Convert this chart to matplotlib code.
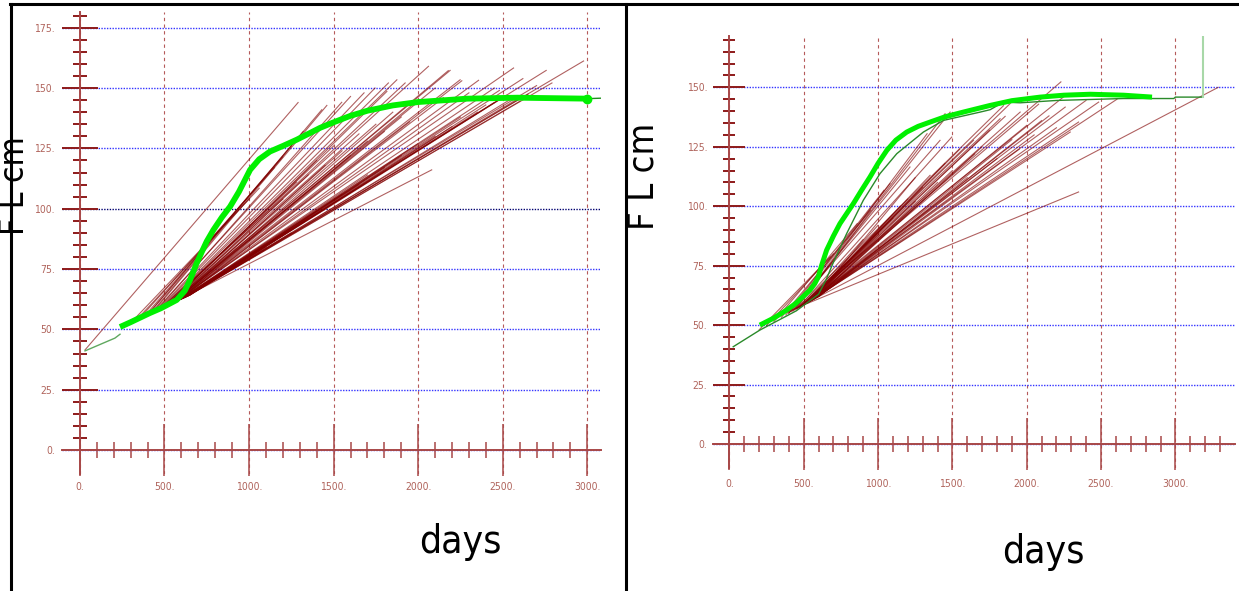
import matplotlib.pyplot as plt
from matplotlib.lines import Line2D
from matplotlib.ticker import FixedLocator, FuncFormatter

# ---- data ----
# growth increments: (days at release, FL at release, days at recapture, FL at recapture)
left_segs = [
    (30, 41.5, 1290, 144.0),
    (300, 52.7, 1000, 104.0), (330, 53.6, 1060, 108.5), (350, 54.3, 1150, 117.0),
    (380, 55.3, 1200, 121.5), (400, 56.0, 1250, 126.0), (420, 56.6, 1320, 132.0),
    (400, 56.0, 1430, 141.0), (430, 57.0, 1460, 142.8), (450, 57.6, 1548, 144.1),
    (440, 57.3, 1600, 146.5), (460, 58.0, 1680, 148.0), (470, 58.3, 1745, 150.0),
    (480, 58.6, 1824, 152.1), (500, 59.3, 1923, 152.1), (470, 58.3, 2061, 159.0),
    (490, 59.0, 1874, 153.4),
    (520, 60.0, 1200, 104.0), (500, 59.3, 1280, 111.0), (540, 60.6, 1350, 114.0),
    (520, 60.0, 1400, 120.0), (560, 61.2, 1450, 118.0), (500, 59.3, 1500, 126.0),
    (540, 60.6, 1550, 124.0), (580, 62.0, 1600, 122.0), (510, 59.6, 1650, 131.0),
    (550, 61.0, 1700, 128.0), (530, 60.3, 1750, 135.0), (570, 61.6, 1800, 132.0),
    (520, 60.0, 1815, 148.6), (560, 61.2, 1850, 140.0), (540, 60.6, 1900, 138.0),
    (590, 62.3, 1950, 136.0), (550, 61.0, 2000, 145.0), (520, 60.0, 2189, 157.3),
    (540, 60.6, 2178, 157.2), (560, 61.2, 2258, 153.0), (570, 61.6, 2357, 153.2),
    (530, 60.3, 2100, 150.0), (580, 62.0, 2150, 146.0), (550, 61.0, 2248, 153.4),
    (530, 60.3, 2564, 158.3), (580, 62.0, 2619, 153.9), (560, 61.2, 2757, 157.3),
    (600, 62.6, 2978, 161.2), (600, 62.6, 2791, 152.1), (590, 62.3, 2450, 150.0),
    (570, 61.6, 2300, 148.0),
    (600, 62.6, 1100, 84.0), (620, 63.2, 1250, 90.0), (640, 63.9, 1350, 96.0),
    (610, 62.9, 1450, 100.0), (630, 63.6, 1550, 106.0), (650, 64.2, 1650, 110.0),
    (600, 62.6, 1700, 114.0), (620, 63.2, 1800, 117.0), (572, 61.8, 2080, 116.1),
    (640, 63.9, 1900, 122.0), (610, 62.9, 2000, 127.0), (630, 63.6, 2100, 130.0),
    (650, 64.2, 2200, 134.0), (600, 62.6, 2250, 138.0), (620, 63.2, 2350, 140.0),
    (640, 63.9, 2400, 143.0), (610, 62.9, 2450, 144.0), (630, 63.6, 2500, 146.0),
    (620, 63.2, 2603, 144.6), (650, 64.2, 2550, 145.5), (600, 62.6, 2650, 147.5),
    (580, 62.0, 2520, 147.0), (640, 63.9, 2600, 146.0), (590, 62.3, 2700, 151.0),
    (560, 61.2, 2480, 149.0),
]

left_fit_x = [237, 300, 414, 480, 572, 620, 651, 690, 720, 750, 789, 840, 888, 940,
              1006, 1060, 1124, 1200, 1282, 1350, 1420, 1500, 1600, 1700, 1850, 2000,
              2290, 2586, 3000]
left_fit_y = [51.0, 53.0, 56.8, 58.8, 62.2, 66.0, 70.5, 77.4, 82.0, 86.5, 91.2, 96.5,
              100.9, 107.0, 116.1, 120.5, 123.7, 126.0, 128.6, 131.0, 133.5, 135.8,
              138.5, 140.6, 142.8, 144.2, 145.6, 146.0, 145.6]
left_start_x = [30, 207, 237]
left_start_y = [41.1, 46.4, 48.0]
left_tail_x = [3000, 3083]
left_tail_y = [145.6, 145.8]

right_segs = [
    (200, 48.0, 680, 78.7), (250, 49.8, 700, 80.0), (300, 51.5, 860, 92.7),
    (350, 53.3, 950, 98.3), (380, 54.3, 1040, 106.7), (400, 55.0, 1081, 109.5),
    (420, 55.7, 1215, 116.5), (440, 56.4, 1330, 130.5), (400, 55.0, 1417, 127.7),
    (430, 56.0, 1485, 139.6), (450, 56.8, 1451, 138.9), (460, 57.1, 1496, 129.1),
    (480, 57.8, 1642, 127.7), (470, 57.5, 1821, 136.8), (490, 58.2, 1855, 137.8),
    (500, 58.5, 1956, 139.6), (450, 56.8, 1844, 142.3), (480, 57.8, 1889, 143.2),
    (470, 57.5, 2080, 142.9), (460, 57.1, 2230, 152.3), (500, 58.5, 2248, 146.0),
    (510, 58.8, 2259, 141.7), (520, 59.2, 2349, 135.4), (500, 58.5, 2399, 144.5),
    (530, 59.5, 2484, 143.8), (540, 59.9, 2607, 145.0), (520, 59.2, 2293, 131.2),
    (365, 55.0, 2349, 106.0), (400, 55.4, 3288, 150.0),
    (520, 59.2, 1100, 95.0), (540, 59.9, 1150, 100.0), (550, 60.3, 1200, 103.0),
    (560, 60.6, 1250, 102.0), (570, 61.0, 1300, 108.0), (530, 59.5, 1350, 113.0),
    (580, 61.3, 1400, 110.0), (550, 60.3, 1450, 118.0), (590, 61.7, 1500, 115.0),
    (520, 59.2, 1550, 124.0), (600, 62.0, 1600, 112.0), (560, 60.6, 1650, 122.0),
    (580, 61.3, 1700, 125.0), (540, 59.9, 1750, 132.0), (600, 62.0, 1800, 120.0),
    (570, 61.0, 1900, 128.0), (590, 61.7, 1950, 124.0), (550, 60.3, 2000, 134.0),
    (580, 61.3, 2050, 130.0), (600, 62.0, 2100, 136.0), (560, 60.6, 2150, 138.0),
    (590, 61.7, 2200, 133.0), (570, 61.0, 1250, 112.0), (530, 59.5, 1000, 92.0),
    (500, 58.5, 900, 86.0), (560, 60.6, 1000, 88.0),
]

right_fit_x = [205, 300, 385, 450, 542, 575, 598, 620, 654, 700, 744, 790, 834, 890,
               946, 1000, 1059, 1120, 1193, 1270, 1350, 1450, 1574, 1754, 1900, 2091,
               2250, 2428, 2652, 2843]
right_fit_y = [50.0, 53.0, 56.3, 59.3, 64.7, 67.5, 70.3, 75.0, 81.5, 87.5, 92.7, 97.0,
               101.1, 106.8, 112.3, 118.0, 123.5, 127.8, 131.2, 133.6, 135.4, 137.6,
               139.6, 142.4, 144.4, 145.9, 146.7, 147.1, 146.7, 145.9]
right_obs_x = [26, 205, 450, 600, 650, 697, 789, 901, 1013, 1126, 1305, 1440, 1687,
               1754, 1844, 1956, 2203, 2652, 2989, 3000, 3187]
right_obs_y = [40.9, 47.9, 56.0, 63.0, 69.0, 76.0, 88.5, 102.5, 113.7, 122.1, 131.2,
               136.1, 139.6, 140.6, 143.8, 143.5, 144.5, 145.3, 145.3, 145.9, 145.9]
right_spike_x = [3187, 3187]
right_spike_y = [145.9, 171.0]

x_major = [0, 500, 1000, 1500, 2000, 2500, 3000]
x_minor_left = [v for v in range(100, 3000, 100)]
x_minor_right = [v for v in range(100, 3400, 100)]
y_major_left = [0, 25, 50, 75, 100, 125, 150, 175]
y_major_right = [0, 25, 50, 75, 100, 125, 150]
y_minor_left = [v for v in range(5, 181, 5)]
y_minor_right = [v for v in range(5, 171, 5)]

W, H = 1239, 591
fig = plt.figure(figsize=(W / 100, H / 100), dpi=100)
cond = dict(family='DejaVu Sans', stretch='condensed')


def px_axes(x0, x1, y0, y1):
    return fig.add_axes([x0 / W, 1 - y1 / H, (x1 - x0) / W, (y1 - y0) / H])


def style_axes(ax, xmaj, xmin, ymaj, ymin, ylen, yminlen, lsize, ypad, xpad):
    for s in ['top', 'right']:
        ax.spines[s].set_visible(False)
    ax.spines['left'].set_position(('data', 0))
    ax.spines['bottom'].set_position(('data', 0))
    for s in ['left', 'bottom']:
        ax.spines[s].set_color('#a84848')
        ax.spines[s].set_linewidth(1.4)
    ax.xaxis.set_major_locator(FixedLocator(xmaj))
    ax.xaxis.set_minor_locator(FixedLocator(xmin))
    ax.yaxis.set_major_locator(FixedLocator(ymaj))
    ax.yaxis.set_minor_locator(FixedLocator(ymin))
    fmt = FuncFormatter(lambda v, p: f"{v:.0f}.")
    ax.xaxis.set_major_formatter(fmt)
    ax.yaxis.set_major_formatter(fmt)
    ax.tick_params(axis='y', which='major', direction='inout', length=ylen, width=1.4,
                   color='#8e1a1a', pad=ypad, labelsize=lsize, labelcolor='#b0645c')
    ax.tick_params(axis='y', which='minor', direction='inout', length=yminlen, width=1.4,
                   color='#8e1a1a')
    ax.tick_params(axis='x', which='major', direction='inout', length=38, width=1.1,
                   color='#a84848', pad=xpad, labelsize=lsize, labelcolor='#b0645c')
    ax.tick_params(axis='x', which='minor', direction='inout', length=12, width=1.1,
                   color='#a84848')
    for lab in ax.get_xticklabels() + ax.get_yticklabels():
        lab.set_family('DejaVu Sans')
        lab.set_stretch('condensed')
    ax.set_axisbelow(True)
    ax.grid(True, axis='x', which='major', color='#b55a5a', linestyle=(0, (3, 3)),
            linewidth=0.8)
    ax.grid(True, axis='y', which='major', color='#3434ff', linestyle=(0, (1, 1)),
            linewidth=1.0)
    ax.patch.set_alpha(0)


# ---- left panel ----
ax1 = px_axes(62, 601, 12, 474)
ax1.set_xlim(-106, 3081)
ax1.set_ylim(-9.9, 181.5)
style_axes(ax1, x_major, x_minor_left, y_major_left, y_minor_left, 26, 10, 7.5, 5, 4)
ax1.get_ygridlines()[4].set_color('#000070')

for x0, y0, x1, y1 in left_segs:
    ax1.plot([x0, x1], [y0, y1], color='#800000', lw=0.8, alpha=0.62)
ax1.plot(left_start_x, left_start_y, color='#5fa85f', lw=1.0)
ax1.plot(left_tail_x, left_tail_y, color='#1f8f1f', lw=1.0)
ax1.plot(left_fit_x, left_fit_y, color='#00f000', lw=4.2, solid_capstyle='butt',
         solid_joinstyle='round')
ax1.plot([left_fit_x[-1]], [left_fit_y[-1]], 'o', color='#00f000', ms=6)

# ---- right panel ----
ax2 = px_axes(713, 1235, 36, 468)
ax2.set_xlim(-110, 3401)
ax2.set_ylim(-10.1, 171.6)
style_axes(ax2, x_major, x_minor_right, y_major_right, y_minor_right, 23, 9, 7.5, 4.5, 6)

for x0, y0, x1, y1 in right_segs:
    ax2.plot([x0, x1], [y0, y1], color='#800000', lw=0.8, alpha=0.62)
ax2.plot(right_obs_x, right_obs_y, color='#2a8a2a', lw=1.0)
ax2.plot(right_spike_x, right_spike_y, color='#a8d8a8', lw=1.5)
ax2.plot(right_fit_x, right_fit_y, color='#00f000', lw=3.6, solid_capstyle='butt',
         solid_joinstyle='round')

# ---- axis titles ----
fig.text(15 / W, 1 - 186 / H, 'F L cm', rotation=90, ha='center', va='center',
         fontsize=24, **cond)
fig.text(643 / W, 1 - 176 / H, 'F L cm', rotation=90, ha='center', va='center',
         fontsize=26, **cond)
fig.text(460 / W, 1 - 542 / H, 'days', ha='center', va='center', fontsize=28, **cond)
fig.text(1043 / W, 1 - 552 / H, 'days', ha='center', va='center', fontsize=28, **cond)

# ---- black frame ----
fig.add_artist(Line2D([11 / W, 11 / W], [0, 1 - 4 / H], transform=fig.transFigure,
                      color='k', lw=2.2))
fig.add_artist(Line2D([625.7 / W, 625.7 / W], [0, 1 - 4 / H], transform=fig.transFigure,
                      color='k', lw=2.2))
fig.add_artist(Line2D([10 / W, 1], [1 - 4.3 / H, 1 - 4.3 / H], transform=fig.transFigure,
                      color='k', lw=2.2))

fig.savefig('out.png', dpi=100)
